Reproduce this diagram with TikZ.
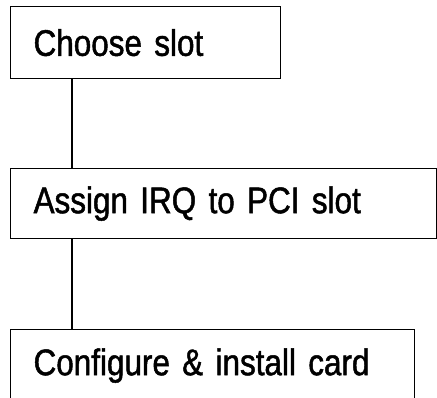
\documentclass[tikz,border=0pt]{standalone}
\usepackage{fontspec}
\setmainfont{Liberation Sans}[FakeStretch=0.85,FakeBold=1.3]

\begin{document}
\begin{tikzpicture}[x=1pt,y=1pt,
        stepbox/.style={draw, line width=1.2pt, anchor=north west, inner xsep=23pt, inner ysep=0pt,
            align=left, font=\fontsize{37}{40}\selectfont}]
        \useasboundingbox (0,0) rectangle (437,398);
        \node[stepbox, text width=224pt, minimum height=72pt] (choose) at (10,392) {Choose slot};
        \node[stepbox, text width=380pt, minimum height=70pt] (assign) at (10,230) {Assign IRQ to PCI slot};
        \node[stepbox, text width=358pt, minimum height=72pt] (install) at (10,69) {Configure \& install card};
        \draw[line width=1.2pt] ([xshift=62pt]choose.south west) -- ([xshift=62pt]assign.north west);
        \draw[line width=1.2pt] ([xshift=62pt]assign.south west) -- ([xshift=62pt]install.north west);
    \end{tikzpicture}
\end{document}
